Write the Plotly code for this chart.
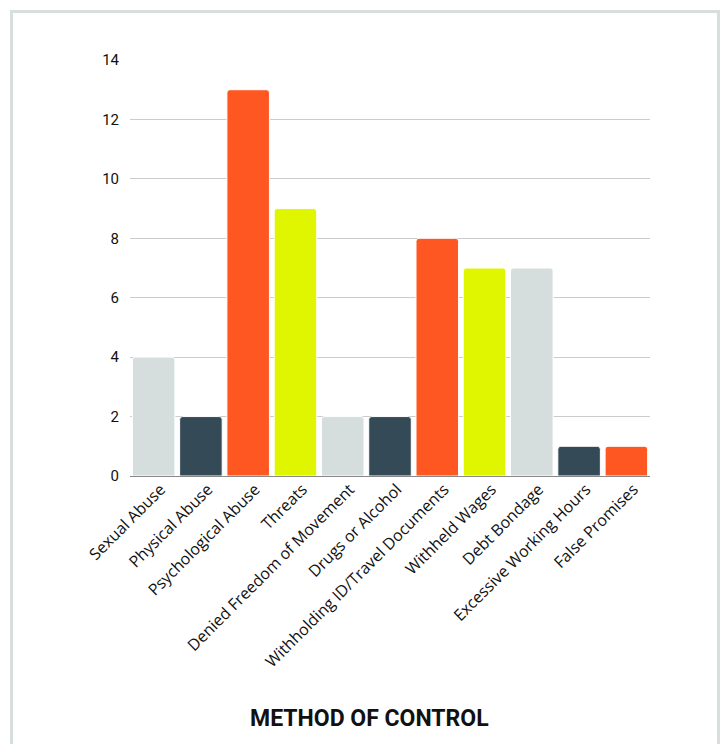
import plotly.graph_objects as go

categories = ["Sexual Abuse", "Physical Abuse", "Psychological Abuse", "Threats",
              "Denied Freedom of Movement", "Drugs or Alcohol",
              "Withholding ID/Travel Documents", "Withheld Wages", "Debt Bondage",
              "Excessive Working Hours", "False Promises"]
values = [4, 2, 13, 9, 2, 2, 8, 7, 7, 1, 1]
palette = ["#d5dedc", "#344a57", "#ff5722", "#e0f500"]
colors = [palette[i % 4] for i in range(len(categories))]
y_ticks = [0, 2, 4, 6, 8, 10, 12, 14]
title_text = "METHOD OF CONTROL"

W, H = 725, 744
L, R, T, B = 130, 75, 60, 268
pw, ph = W - L - R, H - T - B

def px_x(px):
    return (px - L) / pw

def px_y(py):
    return (H - B - py) / ph

fig = go.Figure(go.Bar(
    x=categories, y=values,
    marker=dict(color=colors, line=dict(color="white", width=1), cornerradius=3),
))

fig.update_layout(
    width=W, height=H,
    margin=dict(l=L, r=R, t=T, b=B),
    paper_bgcolor="white", plot_bgcolor="white",
    bargap=0.1,
    showlegend=False,
    font=dict(family="Roboto, 'DejaVu Sans', sans-serif", color="#111"),
    xaxis=dict(tickangle=-45, tickfont=dict(size=16, family="'Open Sans', sans-serif", color="#111"),
               showgrid=False, showline=False, ticks="", ticklabelshift=7),
    yaxis=dict(range=[0, 14], tickvals=y_ticks, tickfont=dict(size=15, color="#111"),
               showgrid=True, gridcolor="#cccccc", gridwidth=1,
               zeroline=True, zerolinecolor="#888888", zerolinewidth=1,
               ticks="", ticklabelstandoff=10),
    shapes=[dict(type="rect", xref="paper", yref="paper",
                 x0=px_x(11.5), x1=px_x(718.5), y0=px_y(11.5), y1=px_y(760),
                 line=dict(color="#d6dfdc", width=3), layer="below")],
    annotations=[dict(text="<b>" + title_text + "</b>", xref="paper", yref="paper",
                      x=px_x(369), y=px_y(718), showarrow=False,
                      font=dict(size=23, family="Roboto, sans-serif", color="#111"),
                      xanchor="center", yanchor="middle")],
)

fig.write_html("out.html")
